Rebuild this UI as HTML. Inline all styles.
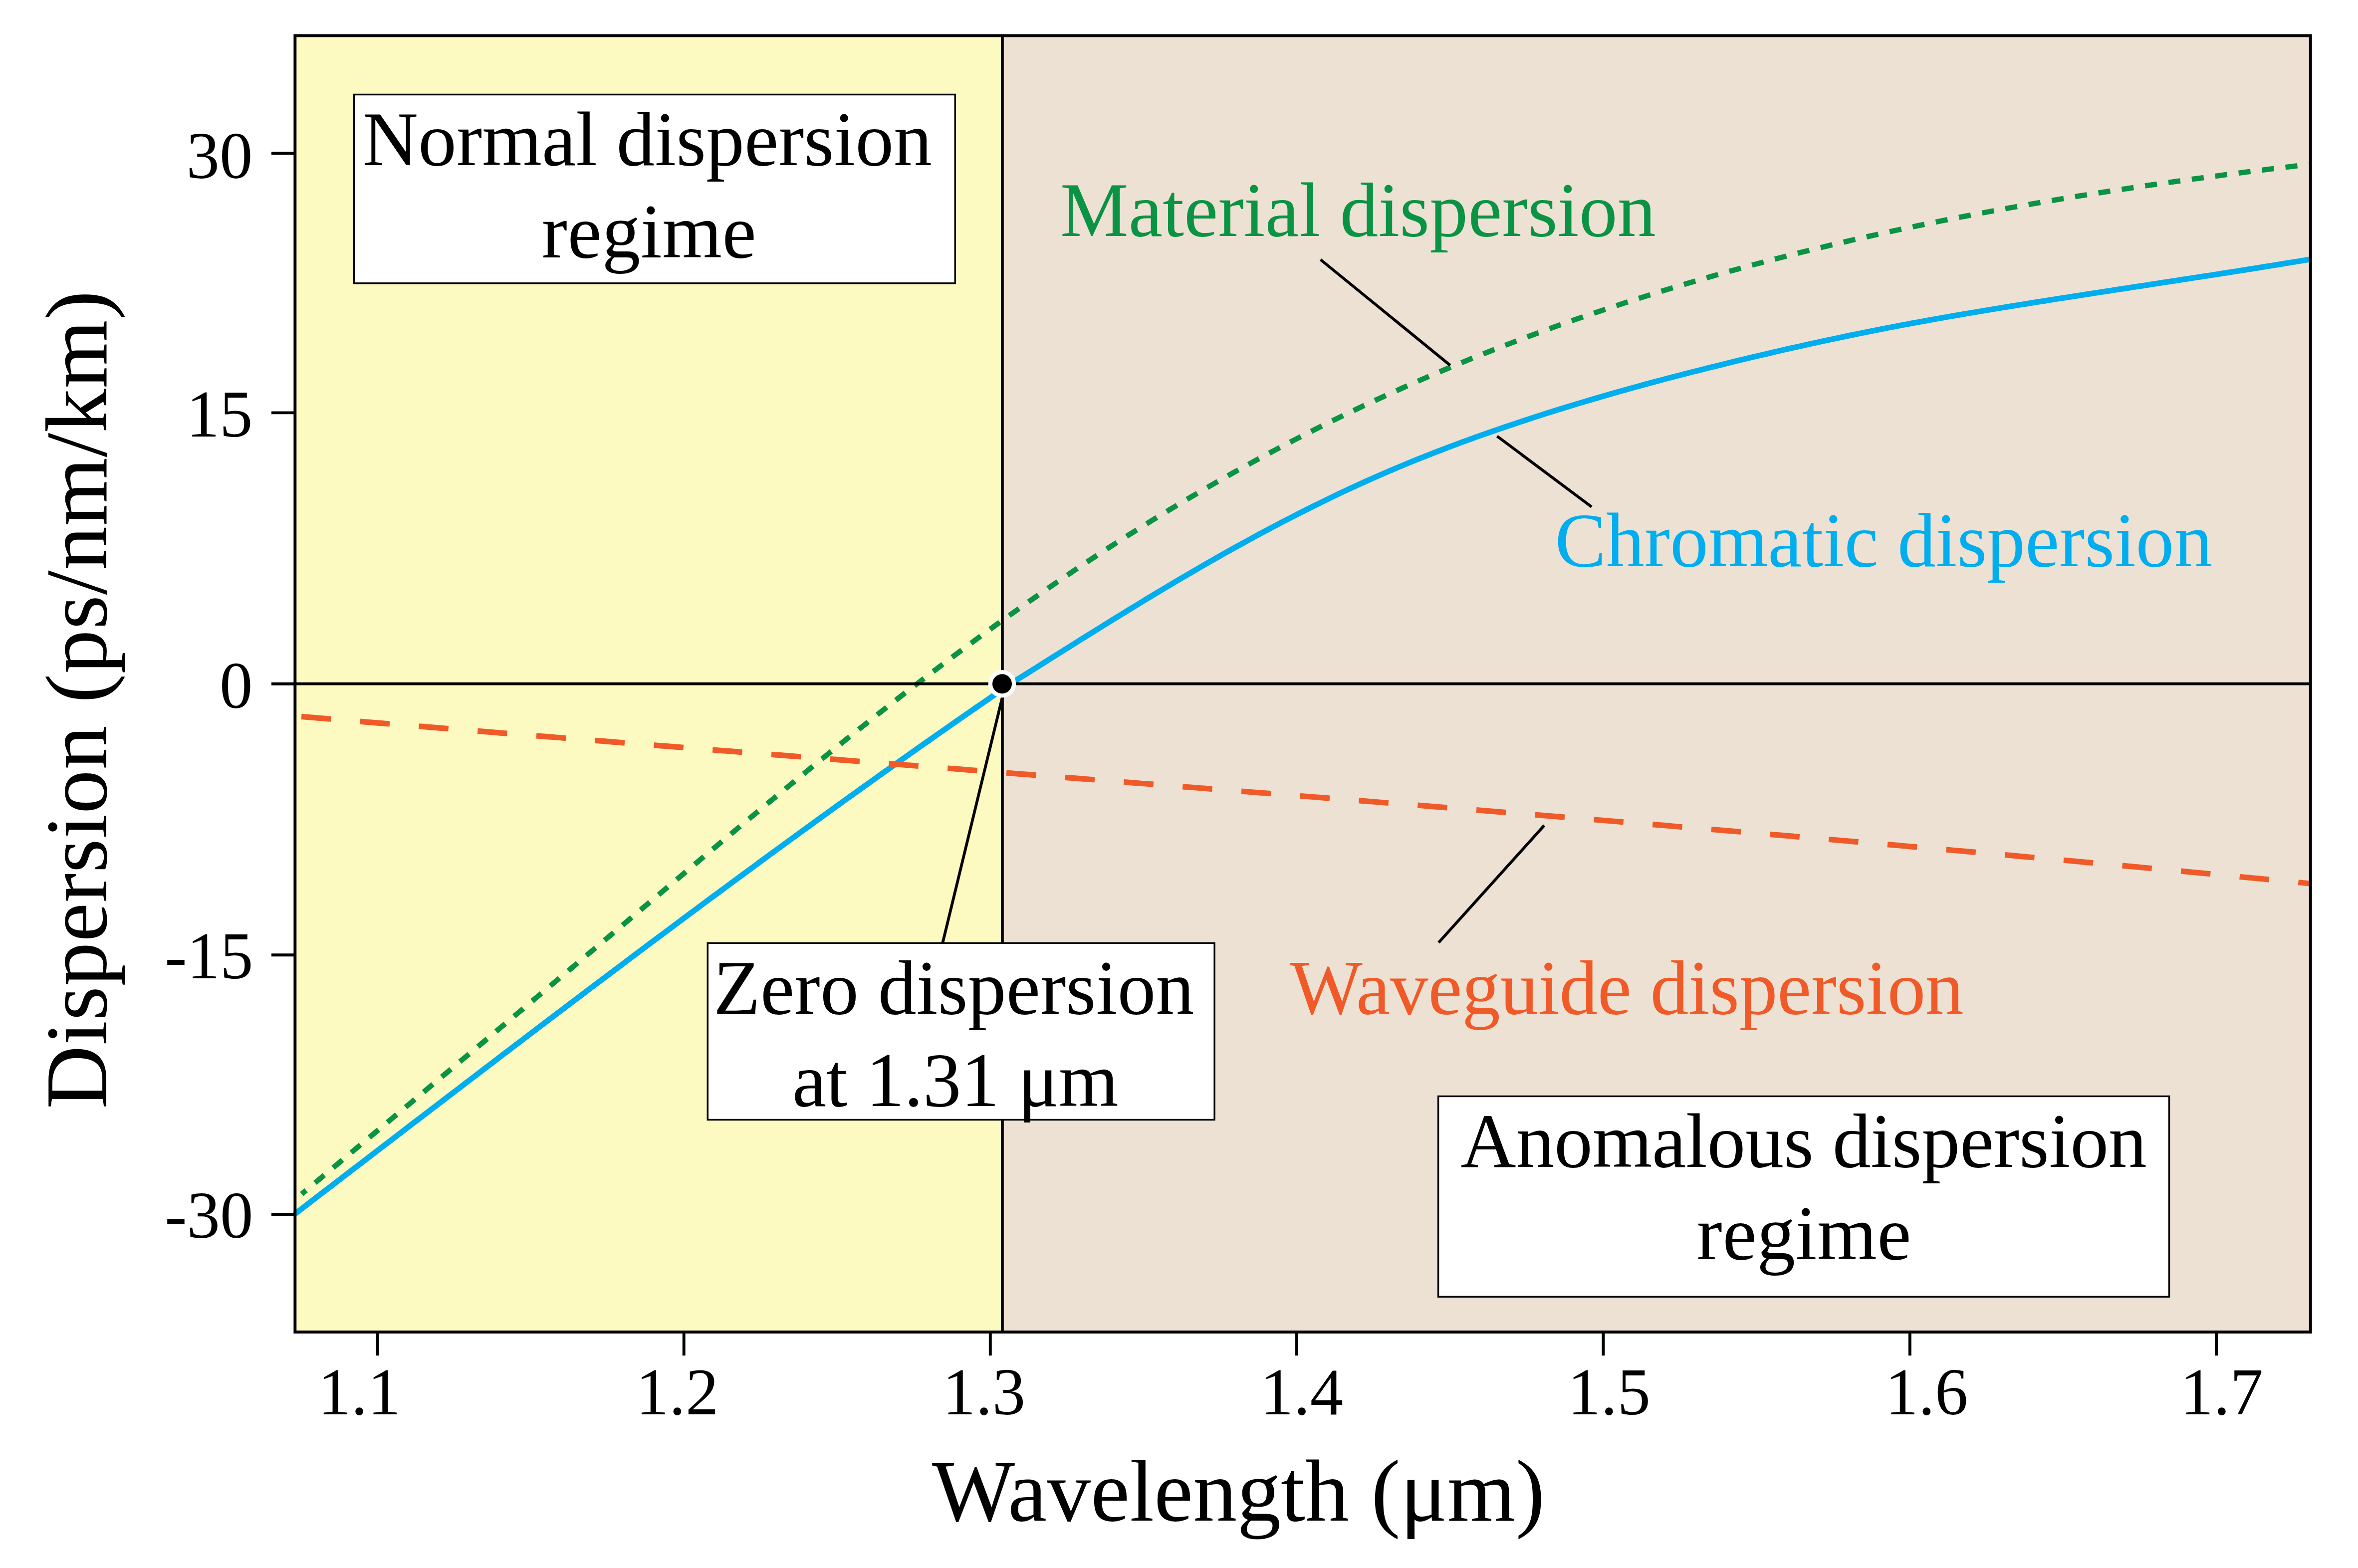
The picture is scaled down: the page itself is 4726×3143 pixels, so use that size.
<!DOCTYPE html>
<html lang="en"><head><meta charset="utf-8"><title>Dispersion in single-mode fiber</title>
<style>
html,body{margin:0;padding:0;background:#fff;}
svg{display:block;}
text{font-family:"Liberation Serif",serif;fill:#000;}
.tk{font-size:133px;}
.lb{font-size:153.8px;}
.ax{font-size:176px;}
</style></head><body>
<svg width="4726" height="3143" viewBox="0 0 4726 3143" role="img" aria-label="Dispersion versus wavelength for a single-mode fiber">
<rect x="0" y="0" width="4726" height="3143" fill="#fff"/>
<rect x="591.35" y="71.45" width="1417.55" height="2598.55" fill="#FCF9C1"/>
<rect x="2008.90" y="71.45" width="2621.90" height="2598.55" fill="#EDE1D4"/>
<defs><clipPath id="plot"><rect x="587.35" y="71.45" width="4043.45" height="2598.55"/></clipPath></defs>
<g clip-path="url(#plot)" fill="none" stroke-linejoin="round">
<path d="M588.0 2435.6 L600.0 2426.4 L612.0 2417.2 L624.0 2408.0 L636.0 2398.8 L648.0 2389.6 L660.0 2380.4 L672.0 2371.2 L684.0 2362.0 L696.0 2352.8 L708.0 2343.6 L720.0 2334.4 L732.0 2325.2 L744.0 2316.0 L756.0 2306.8 L768.0 2297.6 L780.0 2288.4 L792.0 2279.2 L804.0 2270.0 L816.0 2260.8 L828.0 2251.6 L840.0 2242.4 L852.0 2233.2 L864.0 2224.1 L876.0 2214.9 L888.0 2205.7 L900.0 2196.5 L912.0 2187.4 L924.0 2178.2 L936.0 2169.0 L948.0 2159.9 L960.0 2150.7 L972.0 2141.5 L984.0 2132.4 L996.0 2123.2 L1008.0 2114.1 L1020.0 2105.0 L1032.0 2095.8 L1044.0 2086.7 L1056.0 2077.6 L1068.0 2068.4 L1080.0 2059.3 L1092.0 2050.2 L1104.0 2041.1 L1116.0 2032.0 L1128.0 2022.9 L1140.0 2013.8 L1152.0 2004.8 L1164.0 1995.7 L1176.0 1986.6 L1188.0 1977.6 L1200.0 1968.5 L1212.0 1959.5 L1224.0 1950.4 L1236.0 1941.4 L1248.0 1932.4 L1260.0 1923.3 L1272.0 1914.3 L1284.0 1905.3 L1296.0 1896.3 L1308.0 1887.3 L1320.0 1878.4 L1332.0 1869.4 L1344.0 1860.4 L1356.0 1851.5 L1368.0 1842.5 L1380.0 1833.6 L1392.0 1824.7 L1404.0 1815.7 L1416.0 1806.8 L1428.0 1797.9 L1440.0 1789.1 L1452.0 1780.2 L1464.0 1771.3 L1476.0 1762.5 L1488.0 1753.6 L1500.0 1744.8 L1512.0 1736.0 L1524.0 1727.1 L1536.0 1718.3 L1548.0 1709.5 L1560.0 1700.8 L1572.0 1692.0 L1584.0 1683.2 L1596.0 1674.5 L1608.0 1665.8 L1620.0 1657.1 L1632.0 1648.3 L1644.0 1639.7 L1656.0 1631.0 L1668.0 1622.3 L1680.0 1613.6 L1692.0 1605.0 L1704.0 1596.4 L1716.0 1587.8 L1728.0 1579.2 L1740.0 1570.6 L1752.0 1562.0 L1764.0 1553.4 L1776.0 1544.9 L1788.0 1536.4 L1800.0 1527.8 L1812.0 1519.3 L1824.0 1510.9 L1836.0 1502.4 L1848.0 1493.9 L1860.0 1485.5 L1872.0 1477.1 L1884.0 1468.7 L1896.0 1460.3 L1908.0 1451.9 L1920.0 1443.5 L1932.0 1435.2 L1944.0 1426.9 L1956.0 1418.5 L1968.0 1410.3 L1980.0 1402.0 L1992.0 1393.7 L2004.0 1385.5 L2008.5 1382.4" stroke="#00ADEE" stroke-width="11.3"/>
<path d="M2008.5 1381.3 L2020.5 1373.7 L2032.5 1366.2 L2044.5 1358.6 L2056.5 1351.1 L2068.5 1343.5 L2080.5 1335.9 L2092.5 1328.4 L2104.5 1320.8 L2116.5 1313.3 L2128.5 1305.7 L2140.5 1298.2 L2152.5 1290.7 L2164.5 1283.1 L2176.5 1275.6 L2188.5 1268.2 L2200.5 1260.7 L2212.5 1253.2 L2224.5 1245.8 L2236.5 1238.4 L2248.5 1231.0 L2260.5 1223.6 L2272.5 1216.3 L2284.5 1209.0 L2296.5 1201.7 L2308.5 1194.4 L2320.5 1187.2 L2332.5 1180.0 L2344.5 1172.8 L2356.5 1165.7 L2368.5 1158.6 L2380.5 1151.6 L2392.5 1144.6 L2404.5 1137.6 L2416.5 1130.7 L2428.5 1123.8 L2440.5 1117.0 L2452.5 1110.2 L2464.5 1103.5 L2476.5 1096.8 L2488.5 1090.2 L2500.5 1083.6 L2512.5 1077.0 L2524.5 1070.5 L2536.5 1064.1 L2548.5 1057.7 L2560.5 1051.4 L2572.5 1045.1 L2584.5 1038.9 L2596.5 1032.7 L2608.5 1026.6 L2620.5 1020.6 L2632.5 1014.6 L2644.5 1008.7 L2656.5 1002.8 L2668.5 997.0 L2680.5 991.2 L2692.5 985.5 L2704.5 979.9 L2716.5 974.4 L2728.5 968.9 L2740.5 963.5 L2752.5 958.1 L2764.5 952.8 L2776.5 947.6 L2788.5 942.5 L2800.5 937.4 L2812.5 932.4 L2824.5 927.4 L2836.5 922.5 L2848.5 917.7 L2860.5 912.9 L2872.5 908.2 L2884.5 903.6 L2896.5 899.0 L2908.5 894.5 L2920.5 890.0 L2932.5 885.5 L2944.5 881.2 L2956.5 876.8 L2968.5 872.5 L2980.5 868.3 L2992.5 864.1 L3004.5 860.0 L3016.5 855.8 L3028.5 851.8 L3040.5 847.8 L3052.5 843.8 L3064.5 839.8 L3076.5 835.9 L3088.5 832.1 L3100.5 828.2 L3112.5 824.5 L3124.5 820.7 L3136.5 817.0 L3148.5 813.3 L3160.5 809.7 L3172.5 806.1 L3184.5 802.5 L3196.5 799.0 L3208.5 795.5 L3220.5 792.0 L3232.5 788.5 L3244.5 785.1 L3256.5 781.8 L3268.5 778.4 L3280.5 775.1 L3292.5 771.8 L3304.5 768.5 L3316.5 765.3 L3328.5 762.1 L3340.5 758.9 L3352.5 755.8 L3364.5 752.6 L3376.5 749.5 L3388.5 746.4 L3400.5 743.4 L3412.5 740.4 L3424.5 737.3 L3436.5 734.4 L3448.5 731.4 L3460.5 728.4 L3472.5 725.5 L3484.5 722.6 L3496.5 719.7 L3508.5 716.8 L3520.5 714.0 L3532.5 711.2 L3544.5 708.4 L3556.5 705.6 L3568.5 702.8 L3580.5 700.1 L3592.5 697.3 L3604.5 694.7 L3616.5 692.0 L3628.5 689.3 L3640.5 686.7 L3652.5 684.1 L3664.5 681.5 L3676.5 679.0 L3688.5 676.4 L3700.5 673.9 L3712.5 671.4 L3724.5 669.0 L3736.5 666.5 L3748.5 664.1 L3760.5 661.7 L3772.5 659.4 L3784.5 657.0 L3796.5 654.7 L3808.5 652.4 L3820.5 650.2 L3832.5 647.9 L3844.5 645.7 L3856.5 643.6 L3868.5 641.4 L3880.5 639.2 L3892.5 637.1 L3904.5 635.0 L3916.5 632.9 L3928.5 630.9 L3940.5 628.8 L3952.5 626.8 L3964.5 624.8 L3976.5 622.8 L3988.5 620.8 L4000.5 618.8 L4012.5 616.8 L4024.5 614.9 L4036.5 612.9 L4048.5 611.0 L4060.5 609.1 L4072.5 607.1 L4084.5 605.2 L4096.5 603.3 L4108.5 601.4 L4120.5 599.5 L4132.5 597.7 L4144.5 595.8 L4156.5 593.9 L4168.5 592.1 L4180.5 590.2 L4192.5 588.3 L4204.5 586.5 L4216.5 584.6 L4228.5 582.8 L4240.5 580.9 L4252.5 579.1 L4264.5 577.3 L4276.5 575.4 L4288.5 573.6 L4300.5 571.8 L4312.5 569.9 L4324.5 568.1 L4336.5 566.2 L4348.5 564.4 L4360.5 562.6 L4372.5 560.7 L4384.5 558.9 L4396.5 557.0 L4408.5 555.2 L4420.5 553.3 L4432.5 551.5 L4444.5 549.6 L4456.5 547.7 L4468.5 545.8 L4480.5 544.0 L4492.5 542.1 L4504.5 540.2 L4516.5 538.3 L4528.5 536.4 L4540.5 534.4 L4552.5 532.5 L4564.5 530.6 L4576.5 528.6 L4588.5 526.7 L4600.5 524.7 L4612.5 522.7 L4624.5 520.7 L4631.0 519.6" stroke="#00ADEE" stroke-width="11.3"/>
<path d="M604.7 2393.3 L616.7 2383.2 L628.7 2373.2 L640.7 2363.2 L652.7 2353.1 L664.7 2343.1 L676.7 2333.1 L688.7 2323.0 L700.7 2313.0 L712.7 2303.0 L724.7 2292.9 L736.7 2282.9 L748.7 2272.9 L760.7 2262.8 L772.7 2252.8 L784.7 2242.8 L796.7 2232.7 L808.7 2222.7 L820.7 2212.7 L832.7 2202.6 L844.7 2192.6 L856.7 2182.5 L868.7 2172.5 L880.7 2162.5 L892.7 2152.4 L904.7 2142.4 L916.7 2132.3 L928.7 2122.3 L940.7 2112.2 L952.7 2102.2 L964.7 2092.1 L976.7 2082.1 L988.7 2072.0 L1000.7 2061.9 L1012.7 2051.9 L1024.7 2041.8 L1036.7 2031.8 L1048.7 2021.7 L1060.7 2011.6 L1072.7 2001.5 L1084.7 1991.5 L1096.7 1981.4 L1108.7 1971.3 L1120.7 1961.2 L1132.7 1951.2 L1144.7 1941.1 L1156.7 1931.0 L1168.7 1920.9 L1180.7 1910.8 L1192.7 1900.7 L1204.7 1890.6 L1216.7 1880.5 L1228.7 1870.4 L1240.7 1860.3 L1252.7 1850.2 L1264.7 1840.1 L1276.7 1830.0 L1288.7 1819.9 L1300.7 1809.7 L1312.7 1799.6 L1324.7 1789.5 L1336.7 1779.4 L1348.7 1769.3 L1360.7 1759.2 L1372.7 1749.1 L1384.7 1739.0 L1396.7 1728.9 L1408.7 1718.8 L1420.7 1708.7 L1432.7 1698.7 L1444.7 1688.6 L1456.7 1678.6 L1468.7 1668.6 L1480.7 1658.5 L1492.7 1648.5 L1504.7 1638.5 L1516.7 1628.6 L1528.7 1618.6 L1540.7 1608.7 L1552.7 1598.8 L1564.7 1588.9 L1576.7 1579.0 L1588.7 1569.1 L1600.7 1559.3 L1612.7 1549.5 L1624.7 1539.7 L1636.7 1529.9 L1648.7 1520.2 L1660.7 1510.5 L1672.7 1500.8 L1684.7 1491.1 L1696.7 1481.5 L1708.7 1471.9 L1720.7 1462.3 L1732.7 1452.8 L1744.7 1443.3 L1756.7 1433.8 L1768.7 1424.4 L1780.7 1415.0 L1792.7 1405.6 L1804.7 1396.3 L1816.7 1387.0 L1828.7 1377.8 L1840.7 1368.6 L1852.7 1359.4 L1864.7 1350.3 L1876.7 1341.2 L1888.7 1332.1 L1900.7 1323.1 L1912.7 1314.1 L1924.7 1305.2 L1936.7 1296.3 L1948.7 1287.4 L1960.7 1278.6 L1972.7 1269.8 L1984.7 1261.1 L1996.7 1252.4 L2008.7 1243.8 L2020.7 1235.2 L2032.7 1226.7 L2044.7 1218.2 L2056.7 1209.7 L2068.7 1201.3 L2080.7 1192.9 L2092.7 1184.6 L2104.7 1176.3 L2116.7 1168.1 L2128.7 1159.9 L2140.7 1151.8 L2152.7 1143.7 L2164.7 1135.7 L2176.7 1127.7 L2188.7 1119.8 L2200.7 1111.9 L2212.7 1104.1 L2224.7 1096.3 L2236.7 1088.6 L2248.7 1080.9 L2260.7 1073.3 L2272.7 1065.7 L2284.7 1058.2 L2296.7 1050.8 L2308.7 1043.3 L2320.7 1036.0 L2332.7 1028.7 L2344.7 1021.4 L2356.7 1014.2 L2368.7 1007.0 L2380.7 999.9 L2392.7 992.9 L2404.7 985.9 L2416.7 978.9 L2428.7 972.0 L2440.7 965.2 L2452.7 958.4 L2464.7 951.6 L2476.7 944.9 L2488.7 938.3 L2500.7 931.7 L2512.7 925.1 L2524.7 918.6 L2536.7 912.1 L2548.7 905.7 L2560.7 899.4 L2572.7 893.1 L2584.7 886.8 L2596.7 880.6 L2608.7 874.4 L2620.7 868.3 L2632.7 862.2 L2644.7 856.2 L2656.7 850.3 L2668.7 844.3 L2680.7 838.5 L2692.7 832.6 L2704.7 826.8 L2716.7 821.1 L2728.7 815.4 L2740.7 809.8 L2752.7 804.2 L2764.7 798.6 L2776.7 793.1 L2788.7 787.7 L2800.7 782.3 L2812.7 776.9 L2824.7 771.6 L2836.7 766.3 L2848.7 761.0 L2860.7 755.9 L2872.7 750.7 L2884.7 745.6 L2896.7 740.5 L2908.7 735.5 L2920.7 730.5 L2932.7 725.6 L2944.7 720.7 L2956.7 715.8 L2968.7 711.0 L2980.7 706.3 L2992.7 701.5 L3004.7 696.8 L3016.7 692.2 L3028.7 687.6 L3040.7 683.0 L3052.7 678.5 L3064.7 674.0 L3076.7 669.5 L3088.7 665.1 L3100.7 660.7 L3112.7 656.3 L3124.7 652.0 L3136.7 647.8 L3148.7 643.5 L3160.7 639.3 L3172.7 635.2 L3184.7 631.1 L3196.7 627.0 L3208.7 622.9 L3220.7 618.9 L3232.7 614.9 L3244.7 611.0 L3256.7 607.0 L3268.7 603.2 L3280.7 599.3 L3292.7 595.5 L3304.7 591.7 L3316.7 588.0 L3328.7 584.2 L3340.7 580.5 L3352.7 576.9 L3364.7 573.3 L3376.7 569.7 L3388.7 566.1 L3400.7 562.6 L3412.7 559.1 L3424.7 555.6 L3436.7 552.2 L3448.7 548.8 L3460.7 545.4 L3472.7 542.1 L3484.7 538.8 L3496.7 535.5 L3508.7 532.2 L3520.7 529.0 L3532.7 525.8 L3544.7 522.6 L3556.7 519.5 L3568.7 516.4 L3580.7 513.3 L3592.7 510.3 L3604.7 507.2 L3616.7 504.2 L3628.7 501.3 L3640.7 498.3 L3652.7 495.4 L3664.7 492.5 L3676.7 489.7 L3688.7 486.8 L3700.7 484.0 L3712.7 481.2 L3724.7 478.5 L3736.7 475.7 L3748.7 473.0 L3760.7 470.3 L3772.7 467.7 L3784.7 465.1 L3796.7 462.4 L3808.7 459.9 L3820.7 457.3 L3832.7 454.8 L3844.7 452.3 L3856.7 449.8 L3868.7 447.3 L3880.7 444.9 L3892.7 442.4 L3904.7 440.0 L3916.7 437.7 L3928.7 435.3 L3940.7 433.0 L3952.7 430.7 L3964.7 428.4 L3976.7 426.1 L3988.7 423.9 L4000.7 421.7 L4012.7 419.5 L4024.7 417.3 L4036.7 415.1 L4048.7 413.0 L4060.7 410.9 L4072.7 408.8 L4084.7 406.7 L4096.7 404.6 L4108.7 402.6 L4120.7 400.6 L4132.7 398.6 L4144.7 396.6 L4156.7 394.6 L4168.7 392.6 L4180.7 390.7 L4192.7 388.8 L4204.7 386.9 L4216.7 385.0 L4228.7 383.2 L4240.7 381.3 L4252.7 379.5 L4264.7 377.7 L4276.7 375.9 L4288.7 374.1 L4300.7 372.3 L4312.7 370.6 L4324.7 368.9 L4336.7 367.2 L4348.7 365.5 L4360.7 363.8 L4372.7 362.1 L4384.7 360.4 L4396.7 358.8 L4408.7 357.2 L4420.7 355.5 L4432.7 353.9 L4444.7 352.4 L4456.7 350.8 L4468.7 349.2 L4480.7 347.7 L4492.7 346.1 L4504.7 344.6 L4516.7 343.1 L4528.7 341.6 L4540.7 340.1 L4552.7 338.6 L4564.7 337.2 L4576.7 335.7 L4588.7 334.3 L4600.7 332.8 L4612.7 331.4 L4624.7 330.0 L4631.0 329.3" stroke="#0B9344" stroke-width="10.6" stroke-dasharray="24.1 23.2" stroke-dashoffset="12.5"/>
<path d="M604.1 1436.3 L616.1 1437.3 L628.1 1438.3 L640.1 1439.3 L652.1 1440.3 L664.1 1441.3 L676.1 1442.3 L688.1 1443.3 L700.1 1444.3 L712.1 1445.3 L724.1 1446.3 L736.1 1447.3 L748.1 1448.3 L760.1 1449.3 L772.1 1450.3 L784.1 1451.3 L796.1 1452.2 L808.1 1453.2 L820.1 1454.2 L832.1 1455.2 L844.1 1456.2 L856.1 1457.1 L868.1 1458.1 L880.1 1459.1 L892.1 1460.1 L904.1 1461.1 L916.1 1462.0 L928.1 1463.0 L940.1 1464.0 L952.1 1465.0 L964.1 1465.9 L976.1 1466.9 L988.1 1467.9 L1000.1 1468.8 L1012.1 1469.8 L1024.1 1470.8 L1036.1 1471.8 L1048.1 1472.7 L1060.1 1473.7 L1072.1 1474.7 L1084.1 1475.6 L1096.1 1476.6 L1108.1 1477.5 L1120.1 1478.5 L1132.1 1479.5 L1144.1 1480.4 L1156.1 1481.4 L1168.1 1482.4 L1180.1 1483.3 L1192.1 1484.3 L1204.1 1485.2 L1216.1 1486.2 L1228.1 1487.1 L1240.1 1488.1 L1252.1 1489.1 L1264.1 1490.0 L1276.1 1491.0 L1288.1 1491.9 L1300.1 1492.9 L1312.1 1493.8 L1324.1 1494.8 L1336.1 1495.7 L1348.1 1496.7 L1360.1 1497.6 L1372.1 1498.6 L1384.1 1499.5 L1396.1 1500.5 L1408.1 1501.4 L1420.1 1502.4 L1432.1 1503.3 L1444.1 1504.3 L1456.1 1505.2 L1468.1 1506.2 L1480.1 1507.1 L1492.1 1508.1 L1504.1 1509.0 L1516.1 1509.9 L1528.1 1510.9 L1540.1 1511.8 L1552.1 1512.8 L1564.1 1513.7 L1576.1 1514.7 L1588.1 1515.6 L1600.1 1516.5 L1612.1 1517.5 L1624.1 1518.4 L1636.1 1519.4 L1648.1 1520.3 L1660.1 1521.3 L1672.1 1522.2 L1684.1 1523.1 L1696.1 1524.1 L1708.1 1525.0 L1720.1 1526.0 L1732.1 1526.9 L1744.1 1527.8 L1756.1 1528.8 L1768.1 1529.7 L1780.1 1530.7 L1792.1 1531.6 L1804.1 1532.5 L1816.1 1533.5 L1828.1 1534.4 L1840.1 1535.3 L1852.1 1536.3 L1864.1 1537.2 L1876.1 1538.2 L1888.1 1539.1 L1900.1 1540.0 L1912.1 1541.0 L1924.1 1541.9 L1936.1 1542.8 L1948.1 1543.8 L1960.1 1544.7 L1972.1 1545.7 L1984.1 1546.6 L1996.1 1547.5 L2008.1 1548.5 L2020.1 1549.4 L2032.1 1550.3 L2044.1 1551.3 L2056.1 1552.2 L2068.1 1553.2 L2080.1 1554.1 L2092.1 1555.0 L2104.1 1556.0 L2116.1 1556.9 L2128.1 1557.8 L2140.1 1558.8 L2152.1 1559.7 L2164.1 1560.7 L2176.1 1561.6 L2188.1 1562.5 L2200.1 1563.5 L2212.1 1564.4 L2224.1 1565.4 L2236.1 1566.3 L2248.1 1567.2 L2260.1 1568.2 L2272.1 1569.1 L2284.1 1570.1 L2296.1 1571.0 L2308.1 1571.9 L2320.1 1572.9 L2332.1 1573.8 L2344.1 1574.8 L2356.1 1575.7 L2368.1 1576.7 L2380.1 1577.6 L2392.1 1578.5 L2404.1 1579.5 L2416.1 1580.4 L2428.1 1581.4 L2440.1 1582.3 L2452.1 1583.3 L2464.1 1584.2 L2476.1 1585.2 L2488.1 1586.1 L2500.1 1587.0 L2512.1 1588.0 L2524.1 1588.9 L2536.1 1589.9 L2548.1 1590.8 L2560.1 1591.8 L2572.1 1592.7 L2584.1 1593.7 L2596.1 1594.6 L2608.1 1595.6 L2620.1 1596.5 L2632.1 1597.5 L2644.1 1598.4 L2656.1 1599.4 L2668.1 1600.3 L2680.1 1601.3 L2692.1 1602.3 L2704.1 1603.2 L2716.1 1604.2 L2728.1 1605.1 L2740.1 1606.1 L2752.1 1607.0 L2764.1 1608.0 L2776.1 1609.0 L2788.1 1609.9 L2800.1 1610.9 L2812.1 1611.8 L2824.1 1612.8 L2836.1 1613.8 L2848.1 1614.7 L2860.1 1615.7 L2872.1 1616.7 L2884.1 1617.6 L2896.1 1618.6 L2908.1 1619.6 L2920.1 1620.5 L2932.1 1621.5 L2944.1 1622.5 L2956.1 1623.4 L2968.1 1624.4 L2980.1 1625.4 L2992.1 1626.3 L3004.1 1627.3 L3016.1 1628.3 L3028.1 1629.3 L3040.1 1630.2 L3052.1 1631.2 L3064.1 1632.2 L3076.1 1633.2 L3088.1 1634.2 L3100.1 1635.1 L3112.1 1636.1 L3124.1 1637.1 L3136.1 1638.1 L3148.1 1639.1 L3160.1 1640.1 L3172.1 1641.0 L3184.1 1642.0 L3196.1 1643.0 L3208.1 1644.0 L3220.1 1645.0 L3232.1 1646.0 L3244.1 1647.0 L3256.1 1648.0 L3268.1 1649.0 L3280.1 1650.0 L3292.1 1651.0 L3304.1 1652.0 L3316.1 1652.9 L3328.1 1653.9 L3340.1 1654.9 L3352.1 1656.0 L3364.1 1657.0 L3376.1 1658.0 L3388.1 1659.0 L3400.1 1660.0 L3412.1 1661.0 L3424.1 1662.0 L3436.1 1663.0 L3448.1 1664.0 L3460.1 1665.0 L3472.1 1666.0 L3484.1 1667.0 L3496.1 1668.1 L3508.1 1669.1 L3520.1 1670.1 L3532.1 1671.1 L3544.1 1672.1 L3556.1 1673.2 L3568.1 1674.2 L3580.1 1675.2 L3592.1 1676.2 L3604.1 1677.3 L3616.1 1678.3 L3628.1 1679.3 L3640.1 1680.4 L3652.1 1681.4 L3664.1 1682.4 L3676.1 1683.5 L3688.1 1684.5 L3700.1 1685.5 L3712.1 1686.6 L3724.1 1687.6 L3736.1 1688.7 L3748.1 1689.7 L3760.1 1690.7 L3772.1 1691.8 L3784.1 1692.8 L3796.1 1693.9 L3808.1 1694.9 L3820.1 1696.0 L3832.1 1697.1 L3844.1 1698.1 L3856.1 1699.2 L3868.1 1700.2 L3880.1 1701.3 L3892.1 1702.3 L3904.1 1703.4 L3916.1 1704.5 L3928.1 1705.5 L3940.1 1706.6 L3952.1 1707.7 L3964.1 1708.8 L3976.1 1709.8 L3988.1 1710.9 L4000.1 1712.0 L4012.1 1713.1 L4024.1 1714.1 L4036.1 1715.2 L4048.1 1716.3 L4060.1 1717.4 L4072.1 1718.5 L4084.1 1719.6 L4096.1 1720.7 L4108.1 1721.7 L4120.1 1722.8 L4132.1 1723.9 L4144.1 1725.0 L4156.1 1726.1 L4168.1 1727.2 L4180.1 1728.3 L4192.1 1729.4 L4204.1 1730.6 L4216.1 1731.7 L4228.1 1732.8 L4240.1 1733.9 L4252.1 1735.0 L4264.1 1736.1 L4276.1 1737.2 L4288.1 1738.3 L4300.1 1739.5 L4312.1 1740.6 L4324.1 1741.7 L4336.1 1742.8 L4348.1 1744.0 L4360.1 1745.1 L4372.1 1746.2 L4384.1 1747.4 L4396.1 1748.5 L4408.1 1749.6 L4420.1 1750.8 L4432.1 1751.9 L4444.1 1753.1 L4456.1 1754.2 L4468.1 1755.4 L4480.1 1756.5 L4492.1 1757.7 L4504.1 1758.8 L4516.1 1760.0 L4528.1 1761.1 L4540.1 1762.3 L4552.1 1763.5 L4564.1 1764.6 L4576.1 1765.8 L4588.1 1767.0 L4600.1 1768.1 L4612.1 1769.3 L4624.1 1770.5 L4631.0 1771.2" stroke="#F05A28" stroke-width="11.2" stroke-dasharray="59.4 58.72"/>
</g>
<g stroke="#000" fill="none">
<line x1="591.35" y1="1370.70" x2="4630.80" y2="1370.70" stroke-width="5.8"/>
<line x1="2008.90" y1="71.45" x2="2008.90" y2="2670.00" stroke-width="5.8"/>
<rect x="591.35" y="71.45" width="4039.45" height="2598.55" stroke-width="5.90"/>
<line x1="544" y1="307.30" x2="591.35" y2="307.30" stroke-width="5.9"/>
<line x1="544" y1="827.40" x2="591.35" y2="827.40" stroke-width="5.9"/>
<line x1="544" y1="1370.80" x2="591.35" y2="1370.80" stroke-width="5.9"/>
<line x1="544" y1="1914.20" x2="591.35" y2="1914.20" stroke-width="5.9"/>
<line x1="544" y1="2434.00" x2="591.35" y2="2434.00" stroke-width="5.9"/>
<line x1="756.60" y1="2670.00" x2="756.60" y2="2717.2" stroke-width="5.9"/>
<line x1="1370.70" y1="2670.00" x2="1370.70" y2="2717.2" stroke-width="5.9"/>
<line x1="1984.80" y1="2670.00" x2="1984.80" y2="2717.2" stroke-width="5.9"/>
<line x1="2599.00" y1="2670.00" x2="2599.00" y2="2717.2" stroke-width="5.9"/>
<line x1="3213.40" y1="2670.00" x2="3213.40" y2="2717.2" stroke-width="5.9"/>
<line x1="3827.90" y1="2670.00" x2="3827.90" y2="2717.2" stroke-width="5.9"/>
<line x1="4442.00" y1="2670.00" x2="4442.00" y2="2717.2" stroke-width="5.9"/>
</g>
<g stroke="#000" stroke-width="3.4" fill="#fff">
<rect x="709.5" y="189.5" width="1204.80" height="378.30"/>
<rect x="1418.3" y="1890.4" width="1015.80" height="354.10"/>
<rect x="2882.6" y="2197.5" width="1464.90" height="401.80"/>
</g>
<g stroke="#000" stroke-width="5.7" fill="none">
<line x1="2646.6" y1="520.4" x2="2906.5" y2="732.2"/>
<line x1="3000.5" y1="874.3" x2="3190" y2="1016"/>
<line x1="3095" y1="1654.5" x2="2883.4" y2="1889.3"/>
<line x1="2010.8" y1="1390.0" x2="1889.3" y2="1890.0"/>
</g>
<circle cx="2008.5" cy="1370.7" r="27.7" fill="#fff"/>
<circle cx="2008.5" cy="1370.7" r="19.5" fill="#000"/>
<text class="lb" x="727.00" y="331.0" style="letter-spacing:0.031px;">Normal dispersion</text>
<text class="lb" x="1085.80" y="515.8" style="letter-spacing:0.580px;">regime</text>
<text class="lb" x="1430.00" y="2031.9" style="letter-spacing:0.179px;">Zero dispersion</text>
<text class="lb" x="1588.00" y="2216.7" style="letter-spacing:-0.622px;">at 1.31 μm</text>
<text class="lb" x="2927.60" y="2338.8" style="letter-spacing:-0.247px;">Anomalous dispersion</text>
<text class="lb" x="3400.60" y="2523.7" style="letter-spacing:0.600px;">regime</text>
<text class="lb" x="2125.00" y="472.9" style="fill:#0B9344;letter-spacing:0.111px;">Material dispersion</text>
<text class="lb" x="3116.60" y="1134.8" style="fill:#00ADEE;letter-spacing:-0.116px;">Chromatic dispersion</text>
<text class="lb" x="2585.60" y="2032.0" style="fill:#F05A28;letter-spacing:-0.447px;">Waveguide dispersion</text>
<text class="ax" x="1868.00" y="3048.0" style="letter-spacing:-0.021px;">Wavelength (μm)</text>
<text class="tk" x="506.5" y="356.5" text-anchor="end">30</text>
<text class="tk" x="506.5" y="874.8" text-anchor="end">15</text>
<text class="tk" x="506.5" y="1418.5" text-anchor="end">0</text>
<text class="tk" x="507.5" y="1960.9" text-anchor="end">-15</text>
<text class="tk" x="507.5" y="2481.2" text-anchor="end">-30</text>
<text class="tk" x="637.1" y="2835.2">1.1</text>
<text class="tk" x="1274.3" y="2835.2">1.2</text>
<text class="tk" x="1888.9" y="2835.2">1.3</text>
<text class="tk" x="2525.9" y="2835.2">1.4</text>
<text class="tk" x="3141.7" y="2835.2">1.5</text>
<text class="tk" x="3778.2" y="2835.2">1.6</text>
<text class="tk" x="4369.7" y="2835.2">1.7</text>
<text class="ax" transform="translate(213.4 2222.80) rotate(-90)" x="0" y="0" style="letter-spacing:0.620px">Dispersion (ps/nm/km)</text>
</svg>
</body></html>
